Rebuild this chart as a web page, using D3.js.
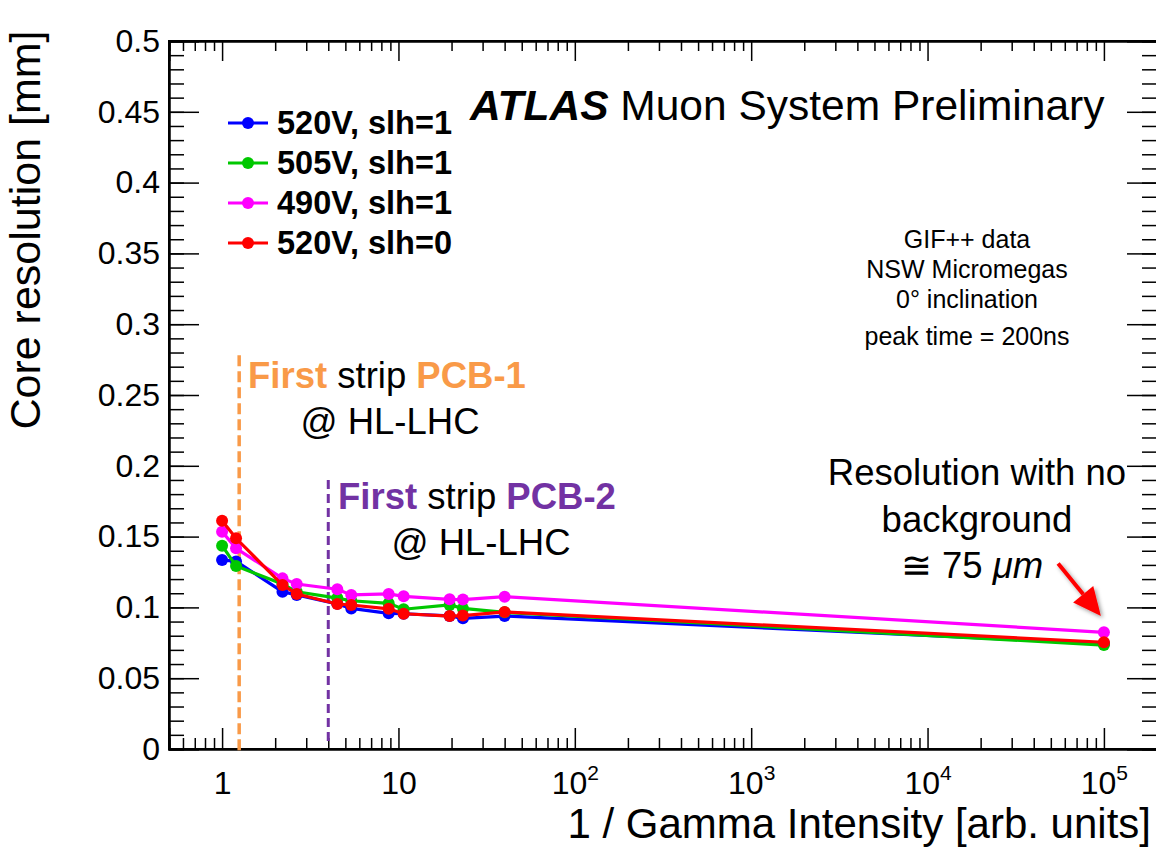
<!DOCTYPE html>
<html>
<head>
<meta charset="utf-8">
<script src="https://cdn.jsdelivr.net/npm/d3@7"></script>
<style>
  body { margin: 0; background: #fff; }
  text { font-family: Helvetica, "Liberation Sans", Arial, sans-serif; }
</style>
</head>
<body>
<svg id="chart" width="1156" height="847"></svg>
<script>
// data
const intensity = [1, 1.2, 2.2, 2.65, 4.5, 5.4, 8.8, 10.7, 19.5, 23.2, 40, 1e5]
const res520slh1 = [0.1335, 0.1325, 0.1111, 0.1088, 0.1025, 0.0993, 0.0958, 0.0955, 0.0940, 0.0923, 0.0939, 0.0745]
const res505slh1 = [0.1436, 0.1292, 0.1165, 0.1110, 0.1066, 0.1047, 0.1029, 0.0987, 0.1017, 0.0993, 0.0965, 0.0734]
const res490slh1 = [0.1535, 0.1417, 0.1205, 0.1165, 0.1128, 0.1088, 0.1095, 0.1078, 0.1057, 0.1055, 0.1076, 0.0824]
const res520slh0 = [0.1612, 0.1488, 0.1158, 0.1095, 0.1024, 0.1017, 0.0990, 0.0955, 0.0939, 0.0942, 0.0968, 0.0754]

const seriesNames = ['520V, slh=1', '505V, slh=1', '490V, slh=1', '520V, slh=0']
const seriesColors = ['#0000ff', '#00c800', '#ff00ff', '#ff0000']
const seriesValues = [res520slh1, res505slh1, res490slh1, res520slh0]

const yTicks = [0, 0.05, 0.1, 0.15, 0.2, 0.25, 0.3, 0.35, 0.4, 0.45, 0.5]
const xMajorTicks = [1, 10, 100, 1000, 10000, 100000]
const xTickLabels = [['1', ''], ['10', ''], ['10', '2'], ['10', '3'], ['10', '4'], ['10', '5']]

const pcb1 = 1.25
const pcb2 = 4

const svg = d3.select('#chart')
const pLeft = 169, pRight = 1157, pTop = 41, pBottom = 749

const x = d3.scaleLog().domain([0.5, 2e5]).range([pLeft, pRight])
const y = d3.scaleLinear().domain([0, 0.5]).range([pBottom, pTop])

// minor ticks
const xMinor = []
for (let e = -1; e <= 5; e++) {
  for (let m = 2; m <= 9; m++) {
    const v = m * Math.pow(10, e)
    if (v >= 0.5 && v <= 2e5) xMinor.push(v)
  }
}
const yMinor = d3.range(0, 0.5001, 0.01)

// axes (ticks point inside the frame, mirrored on top/right)
svg.append('g').attr('transform', `translate(0,${pBottom})`)
  .call(d3.axisBottom(x).tickValues(xMinor).tickSize(-11).tickFormat(''))
svg.append('g').attr('transform', `translate(0,${pTop})`)
  .call(d3.axisTop(x).tickValues(xMinor).tickSize(-10).tickFormat(''))
svg.append('g').attr('transform', `translate(0,${pTop})`)
  .call(d3.axisTop(x).tickValues(xMajorTicks).tickSize(-20).tickFormat(''))
const xAx = svg.append('g').attr('transform', `translate(0,${pBottom})`)
  .call(d3.axisBottom(x).tickValues(xMajorTicks).tickSize(-21).tickFormat(''))

svg.append('g').attr('transform', `translate(${pLeft},0)`)
  .call(d3.axisLeft(y).tickValues(yMinor).tickSize(-15).tickFormat(''))
svg.append('g').attr('transform', `translate(${pLeft},0)`)
  .call(d3.axisLeft(y).tickValues(yTicks).tickSize(-30).tickPadding(9).tickFormat(d => +d.toFixed(2)))
svg.append('g').attr('transform', `translate(${pRight},0)`)
  .call(d3.axisRight(y).tickValues(yMinor).tickSize(-15).tickFormat(''))
svg.append('g').attr('transform', `translate(${pRight},0)`)
  .call(d3.axisRight(y).tickValues(yTicks).tickSize(-30).tickFormat(''))

svg.selectAll('.domain').attr('stroke', '#000').attr('stroke-width', 2)
svg.selectAll('.tick line').attr('stroke', '#000').attr('stroke-width', 1.5)
svg.selectAll('.tick text').attr('font-size', 32).attr('fill', '#000')
  .attr('font-family', 'Helvetica, "Liberation Sans", Arial, sans-serif')

// x labels with superscripts
xAx.selectAll('.tick').each(function (d, i) {
  const t = d3.select(this).append('text')
    .attr('y', 45).attr('text-anchor', 'middle').attr('fill', '#000').attr('font-size', 32)
  t.append('tspan').text(xTickLabels[i][0])
  if (xTickLabels[i][1]) t.append('tspan').attr('dy', -14).attr('font-size', 21).text(xTickLabels[i][1])
})

// frame
svg.append('rect').attr('x', pLeft).attr('y', pTop).attr('width', pRight - pLeft).attr('height', pBottom - pTop)
  .attr('fill', 'none').attr('stroke', '#000').attr('stroke-width', 2)

// axis titles
svg.append('text').attr('transform', 'translate(40,230) rotate(-90)')
  .attr('text-anchor', 'middle').attr('font-size', 43).text('Core resolution [mm]')
svg.append('text').attr('x', 1151).attr('y', 838).attr('text-anchor', 'end')
  .attr('font-size', 42).text('1 / Gamma Intensity [arb. units]')

// PCB reference lines
svg.append('line').attr('x1', x(pcb1)).attr('x2', x(pcb1)).attr('y1', y(0.278)).attr('y2', y(-0.002))
  .attr('stroke', '#f99a48').attr('stroke-width', 3.5).attr('stroke-dasharray', '11,5')
svg.append('line').attr('x1', x(pcb2)).attr('x2', x(pcb2)).attr('y1', y(0.19)).attr('y2', y(0.004))
  .attr('stroke', '#7232a3').attr('stroke-width', 3).attr('stroke-dasharray', '9,5')

// series
const line = d3.line().x((d, i) => x(intensity[i])).y(d => y(d))
seriesValues.forEach((vals, s) => {
  const g = svg.append('g')
  g.append('path').attr('d', line(vals)).attr('fill', 'none')
    .attr('stroke', seriesColors[s]).attr('stroke-width', 3.2)
  g.selectAll('circle').data(vals).join('circle')
    .attr('cx', (d, i) => x(intensity[i])).attr('cy', d => y(d)).attr('r', 6)
    .attr('fill', seriesColors[s])
})

// legend
const leg = svg.append('g').attr('transform', 'translate(228,123)')
seriesNames.forEach((name, i) => {
  const row = leg.append('g').attr('transform', `translate(0,${i * 40})`)
  row.append('line').attr('x1', 0).attr('x2', 40).attr('stroke', seriesColors[i]).attr('stroke-width', 3.2)
  row.append('circle').attr('cx', 20).attr('r', 6).attr('fill', seriesColors[i])
  row.append('text').attr('x', 49).attr('y', 11).attr('font-size', 32.5).attr('font-weight', 'bold').text(name)
})

// title
const title = svg.append('text').attr('x', 470).attr('y', 120).attr('font-size', 42.5)
title.append('tspan').attr('font-weight', 'bold').attr('font-style', 'italic').text('ATLAS')
title.append('tspan').text(' Muon System Preliminary')

// info block
const info = ['GIF++ data', 'NSW Micromegas', '0° inclination', 'peak time = 200ns']
const infoY = [248, 278, 308, 345]
info.forEach((t, i) => {
  svg.append('text').attr('x', 967).attr('y', infoY[i]).attr('text-anchor', 'middle')
    .attr('font-size', 25).text(t)
})

// PCB annotations
function pcbLabel(x0, y0, name, color, cx) {
  const t = svg.append('text').attr('x', x0).attr('y', y0).attr('font-size', 36.5)
  t.append('tspan').attr('fill', color).attr('font-weight', 'bold').text('First')
  t.append('tspan').text(' strip ')
  t.append('tspan').attr('fill', color).attr('font-weight', 'bold').text(name)
  svg.append('text').attr('x', cx).attr('y', y0 + 46).attr('text-anchor', 'middle')
    .attr('font-size', 36.5).text('@ HL-LHC')
}
pcbLabel(248, 388, 'PCB-1', '#f99a48', 390)
pcbLabel(338, 509, 'PCB-2', '#7232a3', 481)

// no-background note
svg.append('text').attr('x', 977).attr('y', 485).attr('text-anchor', 'middle').attr('font-size', 36.5)
  .text('Resolution with no')
svg.append('text').attr('x', 977).attr('y', 532).attr('text-anchor', 'middle').attr('font-size', 36.5)
  .text('background')
const mu = svg.append('text').attr('x', 972).attr('y', 578).attr('text-anchor', 'middle')
  .attr('font-size', 36.5).attr('font-family', '"Liberation Serif", "DejaVu Serif", serif')
mu.append('tspan').text('≅ 75 ')
mu.append('tspan').attr('font-style', 'italic').text('μm')

// red arrow pointing at the last point
const defs = svg.append('defs')
const f = defs.append('filter').attr('id', 'shadow').attr('x', -0.5).attr('y', -0.5).attr('width', 2).attr('height', 2)
f.append('feDropShadow').attr('dx', 2).attr('dy', 2).attr('stdDeviation', 2).attr('flood-opacity', 0.4)
const ax0 = x(55000), ay0 = y(0.131), ax1 = x(1e5) - 3, ay1 = y(0.094)
const ang = Math.atan2(ay1 - ay0, ax1 - ax0)
const hl = 28, hw = 13
const bx = ax1 - hl * Math.cos(ang), by = ay1 - hl * Math.sin(ang)
const arrow = svg.append('g').attr('filter', 'url(#shadow)')
arrow.append('line').attr('x1', ax0).attr('y1', ay0).attr('x2', bx).attr('y2', by)
  .attr('stroke', '#ff0000').attr('stroke-width', 4)
arrow.append('path')
  .attr('d', `M${ax1},${ay1}L${bx + hw * Math.sin(ang)},${by - hw * Math.cos(ang)}L${bx - hw * Math.sin(ang)},${by + hw * Math.cos(ang)}Z`)
  .attr('fill', '#ff0000')
</script>
</body>
</html>
